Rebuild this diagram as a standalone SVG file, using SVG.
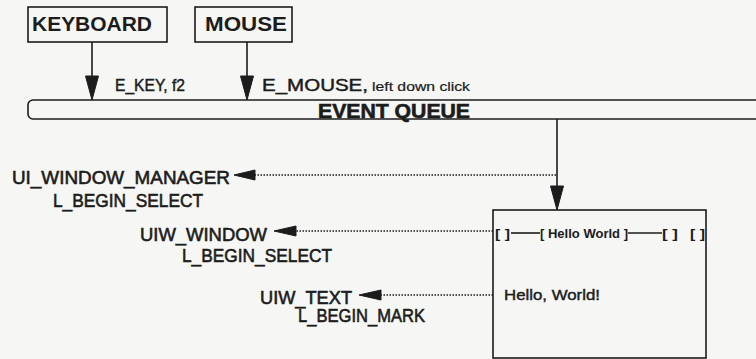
<svg xmlns="http://www.w3.org/2000/svg" width="756" height="359" viewBox="0 0 756 359">
  <style>
    .box { fill: none; stroke: #1c1c1c; stroke-width: 1.6; }
    .ln { fill: none; stroke: #1c1c1c; stroke-width: 1.6; }
    .dot { fill: none; stroke: #1c1c1c; stroke-width: 1.3; stroke-dasharray: 1.5 1.5; }
    .head { fill: #1c1c1c; stroke: #1c1c1c; stroke-width: 1; stroke-linejoin: round; }
    text { font-family: "Liberation Sans", Arial, sans-serif; fill: #1c1c1c; }
    .node { font-size: 20px; font-weight: bold; }
    .lbl { font-size: 19px; stroke: #1c1c1c; stroke-width: 0.6; }
    .elbl { font-size: 17px; stroke: #1c1c1c; stroke-width: 0.45; }
    .small { font-size: 12px; stroke: #1c1c1c; stroke-width: 0.2; }
    .win { font-size: 13.5px; font-weight: bold; }
  </style>
  <rect width="756" height="359" fill="#f6f6f4"/>

  <g id="keyboard">
    <rect class="box" x="28" y="7" width="139" height="35"/>
    <text class="node" x="32" y="31" textLength="120" lengthAdjust="spacingAndGlyphs">KEYBOARD</text>
  </g>

  <g id="mouse">
    <rect class="box" x="195" y="7" width="97" height="35"/>
    <text class="node" x="205" y="31" textLength="82" lengthAdjust="spacingAndGlyphs">MOUSE</text>
  </g>

  <g id="event-queue">
    <rect class="box" x="28" y="100" width="760" height="19" rx="5"/>
    <text x="318" y="117.5" font-size="19.5" font-weight="bold" stroke="#1c1c1c" stroke-width="0.6" textLength="152" lengthAdjust="spacingAndGlyphs">EVENT QUEUE</text>
  </g>

  <g id="ui-window-manager">
    <text class="lbl" x="12" y="184" textLength="218" lengthAdjust="spacingAndGlyphs">UI_WINDOW_MANAGER</text>
  </g>

  <g id="uiw-window">
    <text class="lbl" x="140" y="241" textLength="127" lengthAdjust="spacingAndGlyphs">UIW_WINDOW</text>
  </g>

  <g id="uiw-text">
    <text class="lbl" x="260" y="304" textLength="92" lengthAdjust="spacingAndGlyphs">UIW_TEXT</text>
  </g>

  <g id="window">
    <rect class="box" x="493" y="210" width="213" height="148"/>
    <text class="win" x="495" y="238" textLength="15" lengthAdjust="spacingAndGlyphs">[ ]</text>
    <line class="ln" x1="511" y1="233" x2="540" y2="233" stroke-width="1.2"/>
    <text class="win" x="540" y="238" textLength="88" lengthAdjust="spacingAndGlyphs">[ Hello World ]</text>
    <line class="ln" x1="628" y1="233" x2="662" y2="233" stroke-width="1.2"/>
    <text class="win" x="662" y="238" textLength="16" lengthAdjust="spacingAndGlyphs">[ ]</text>
    <text class="win" x="690" y="238" textLength="15" lengthAdjust="spacingAndGlyphs">[ ]</text>
    <text x="504" y="300" font-size="14" stroke="#1c1c1c" stroke-width="0.4" textLength="96" lengthAdjust="spacingAndGlyphs">Hello, World!</text>
  </g>

  <g id="connectors">
    <line class="ln" x1="92" y1="42" x2="92" y2="80"/>
    <polygon class="head" points="85.5,76 98.5,76 92,100"/>
    <line class="ln" x1="247" y1="42" x2="247" y2="80"/>
    <polygon class="head" points="240.5,76 253.5,76 247,100"/>
    <line class="ln" x1="557" y1="119" x2="557" y2="189"/>
    <polygon class="head" points="550.5,186 563.5,186 557,210"/>

    <line class="dot" x1="556" y1="175" x2="255" y2="175"/>
    <polygon class="head" points="234,175 255,170 255,180"/>
    <line class="dot" x1="493" y1="231" x2="296" y2="231"/>
    <polygon class="head" points="274,231 296,226 296,236"/>
    <line class="dot" x1="493" y1="295" x2="381" y2="295"/>
    <polygon class="head" points="359,295 381,290 381,300"/>

    <text class="elbl" x="115" y="91" textLength="70" lengthAdjust="spacingAndGlyphs">E_KEY, f2</text>
    <text class="elbl" x="262" y="91" textLength="106" lengthAdjust="spacingAndGlyphs">E_MOUSE,</text>
    <text class="small" x="372" y="91" textLength="98" lengthAdjust="spacingAndGlyphs">left down click</text>
    <text class="lbl" x="53" y="207" textLength="150" lengthAdjust="spacingAndGlyphs">L_BEGIN_SELECT</text>
    <text class="lbl" x="182" y="262" textLength="150" lengthAdjust="spacingAndGlyphs">L_BEGIN_SELECT</text>
    <text class="lbl" x="298" y="322" textLength="127" lengthAdjust="spacingAndGlyphs">L_BEGIN_MARK</text>
  </g>
</svg>
